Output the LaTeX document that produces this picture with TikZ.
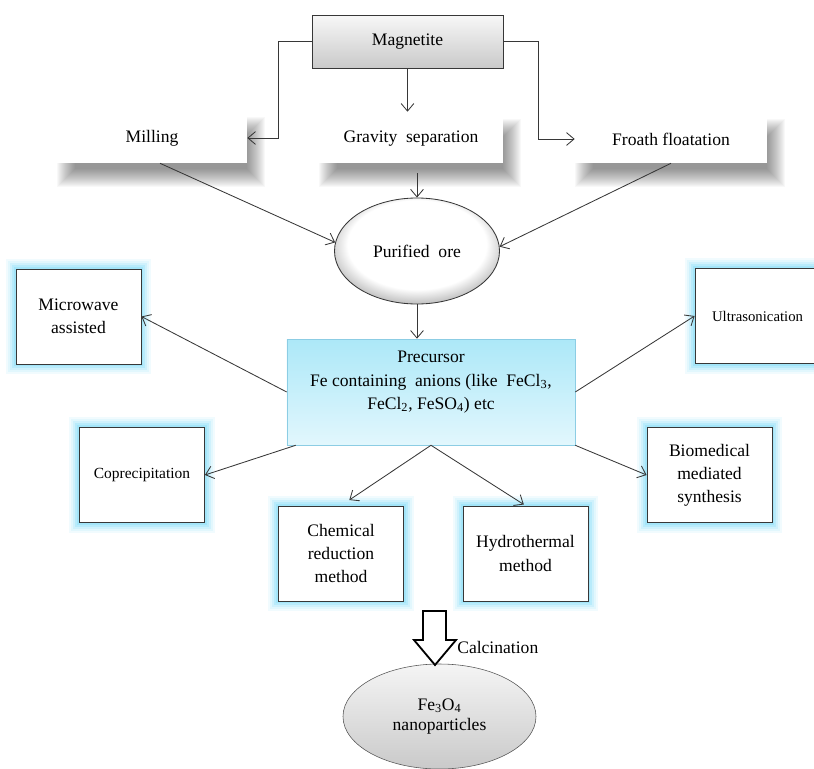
\documentclass[tikz,border=0pt]{standalone}
\usepackage{fontspec}
\setmainfont{Liberation Serif}
\usetikzlibrary{calc,backgrounds,shapes.geometric,arrows.meta}

\definecolor{glowblue}{RGB}{140,222,248}
\definecolor{prectop}{RGB}{172,232,248}
\definecolor{precbot}{RGB}{226,247,253}
\definecolor{precline}{RGB}{140,205,228}
\definecolor{linegray}{RGB}{55,55,55}
\pgfdeclareradialshading{oreshade}{\pgfpoint{0bp}{5bp}}{color(0bp)=(white); color(21bp)=(white); color(30bp)=(gray!72); color(50bp)=(gray!72)}

\begin{document}
\begin{tikzpicture}
    [x=0.25mm, y=-0.25mm,
    every node/.style={align=center, font=\fontsize{12.5}{16.5}\selectfont, inner sep=2pt},
    flow/.style={-{Straight Barb[length=1.9mm,width=3.2mm]}, draw=linegray, line width=0.6pt},
    plainbox/.style={rectangle, fill=white, minimum width=47.5mm, minimum height=12.5mm},
    glowbox/.style={rectangle, draw=linegray, line width=0.6pt, fill=white,
        minimum width=31.25mm, minimum height=23.75mm,
        preaction={draw=glowblue!12, line width=5.2mm},
        preaction={draw=glowblue!25, line width=4.2mm},
        preaction={draw=glowblue!42, line width=3.2mm},
        preaction={draw=glowblue!62, line width=2.2mm},
        preaction={draw=glowblue!80, line width=1.2mm}}
    ]
    \useasboundingbox (0,0) rectangle (814,769);

    % ore processing
    \node (magnetite) [rectangle, draw=linegray, line width=0.6pt, top color=gray!6, bottom color=gray!42,
        minimum width=47.75mm, minimum height=13.25mm] at (407.5,41.5) {Magnetite};
    \node (milling) [plainbox] at (152,138) {Milling};
    \node (gravity) [plainbox, minimum width=46mm, minimum height=12mm] at (411,139) {Gravity~ separation};
    \node (froath) [plainbox, minimum width=48mm, minimum height=12mm] at (671,139) {Froath floatation};
    \node (ore) [ellipse, draw=linegray, line width=0.6pt, shade, shading=oreshade,
        minimum width=41.25mm, minimum height=26.5mm] at (417,251) {Purified~ ore};

    % precursor and synthesis routes
    \node (precursor) [rectangle, draw=precline, top color=prectop, bottom color=precbot,
        minimum width=72mm, minimum height=26.5mm] at (431,392)
        {Precursor\\Fe containing~ anions (like~ FeCl\textsubscript{3},\\FeCl\textsubscript{2}, FeSO\textsubscript{4}) etc\\ \mbox{}};
    \node (microwave) [glowbox] at (78.5,316.5) {Microwave\\assisted};
    \node (ultra) [glowbox, font=\fontsize{10.5}{13}\selectfont] at (757.5,316) {Ultrasonication};
    \node (copr) [glowbox, font=\fontsize{11}{13}\selectfont] at (142,475) {Coprecipitation};
    \node (bio) [glowbox] at (709.5,475) {Biomedical\\mediated\\synthesis};
    \node (chem) [glowbox] at (341,553.5) {Chemical\\reduction\\method};
    \node (hydro) [glowbox] at (525.5,553.5) {Hydrothermal\\method};

    \node (fe) [ellipse, draw=linegray!85, top color=gray!8, bottom color=gray!42,
        minimum width=48.25mm, minimum height=26.25mm] at (439.5,716.5) {Fe\textsubscript{3}O\textsubscript{4}\\[-2pt]nanoparticles};
    \coordinate (calctip) at (435,665);
    \draw[black, line width=1.3pt, fill=white, line join=miter] (calctip) -- ++(-21,-25) -- ++(9,0) -- ++(0,-29)
        -- ++(23,0) -- ++(0,29) -- ++(10,0) -- cycle;
    \node (calcination) [anchor=west, inner sep=0pt] at (457,647) {Calcination};

    % soft shadows
    \begin{scope}[on background layer]
        \foreach \n in {milling, gravity, froath} {
            \foreach \e in {10,9,...,-8} {
                \fill[black, opacity=0.028] ($(\n.south west)+(10-\e,14+\e)$) rectangle ($(\n.north east)+(8+\e,14-\e)$);
            }
        }
    \end{scope}

    % connectors
    \draw[flow] (magnetite.west) -- ++(-33,0) |- (milling.east);
    \draw[flow] (magnetite.east) -- ++(35,0) |- (froath.west);
    \draw[flow, shorten >=0.75mm] (magnetite.south) -- (magnetite.south |- gravity.north);
    \draw[flow, shorten <=2.5mm] (gravity.south -| ore.north) -- (ore.north);
    \draw[flow] ([xshift=2mm]milling.south) -- (ore.174);
    \draw[flow] (froath.south) -- (ore.3);
    \draw[flow] (ore.south) -- (ore.south |- precursor.north);
    \draw[flow] (precursor.west) -- (microwave.east);
    \draw[flow] ([xshift=2.25mm]precursor.south west) -- (copr.east);
    \draw[flow, shorten >=2.5mm] (precursor.south) -- (chem.north);
    \draw[flow, shorten >=0.5mm] (precursor.south) -- (hydro.north);
    \draw[flow] (precursor.east) -- (ultra.west);
    \draw[flow] (precursor.south east) -- (bio.west);
\end{tikzpicture}
\end{document}
